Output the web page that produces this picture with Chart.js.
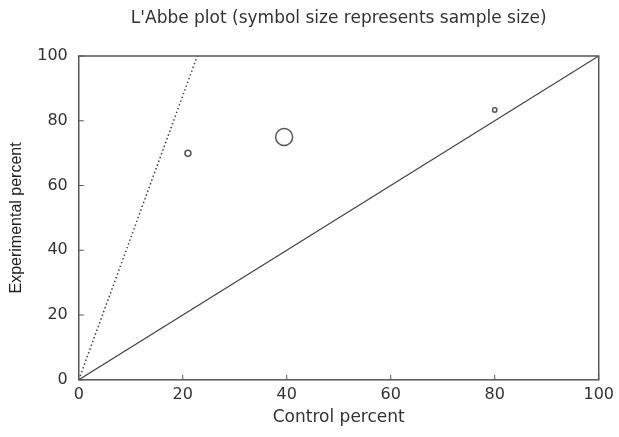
<!DOCTYPE html>
<html>
<head>
<meta charset="utf-8">
<script src="https://cdn.jsdelivr.net/npm/chart.js@4"></script>
<style>
  body { margin: 0; background: #fff; }
  #wrap { width: 619px; height: 437px; }
</style>
</head>
<body>
<div id="wrap"><canvas id="labbe"></canvas></div>
<script>
// estudos: controle %, experimental %, raio do simbolo (tamanho da amostra)
var controle = [21, 39.5, 80];
var experimental = [70, 75, 83.3];
var raios = [3, 8.5, 2.2];

// linha de igualdade e linha pontilhada
var linhaIgualX = [0, 100];
var linhaIgualY = [0, 100];
var linhaPontX = [0, 22.8];
var linhaPontY = [0, 100];

var ticksEixo = [0, 20, 40, 60, 80, 100];
var titulo = "L'Abbe plot (symbol size represents sample size)";

function pares(xs, ys) {
  return xs.map(function (x, i) { return { x: x, y: ys[i] }; });
}

var moldura = {
  id: "moldura",
  afterDraw: function (chart) {
    var ctx = chart.ctx;
    var a = chart.chartArea;
    var sx = chart.scales.x, sy = chart.scales.y;
    ctx.save();
    ctx.strokeStyle = "#555";
    ctx.lineWidth = 1.5;
    ctx.strokeRect(a.left, a.top, a.right - a.left, a.bottom - a.top);
    ctx.lineWidth = 1;
    ticksEixo.forEach(function (t) {
      var px = sx.getPixelForValue(t);
      ctx.beginPath(); ctx.moveTo(px, a.bottom); ctx.lineTo(px, a.bottom - 5); ctx.stroke();
      var py = sy.getPixelForValue(t);
      ctx.beginPath(); ctx.moveTo(a.left, py); ctx.lineTo(a.left + 5, py); ctx.stroke();
    });
    // titulo centrado sobre a area do grafico
    ctx.fillStyle = "#333";
    ctx.font = "17px 'DejaVu Sans'";
    ctx.textAlign = "center";
    ctx.textBaseline = "middle";
    ctx.fillText(titulo, (a.left + a.right) / 2, 19);
    ctx.restore();
  }
};

var dadosBolhas = controle.map(function (c, i) {
  return { x: c, y: experimental[i], r: raios[i] };
});

new Chart(document.getElementById("labbe"), {
  type: "bubble",
  data: {
    datasets: [
      {
        type: "scatter",
        data: pares(linhaIgualX, linhaIgualY),
        showLine: true,
        borderColor: "#444",
        borderWidth: 1.2,
        pointRadius: 0,
        order: 2
      },
      {
        type: "scatter",
        data: pares(linhaPontX, linhaPontY),
        showLine: true,
        borderColor: "#444",
        borderWidth: 1.5,
        borderDash: [1.5, 2.5],
        pointRadius: 0,
        order: 2
      },
      {
        data: dadosBolhas,
        backgroundColor: "rgba(0,0,0,0)",
        borderColor: "#555",
        borderWidth: 1.5,
        order: 1
      }
    ]
  },
  options: {
    responsive: true,
    maintainAspectRatio: false,
    animation: false,
    layout: { padding: { left: 7, right: 17, top: 56, bottom: 7 } },
    plugins: {
      legend: { display: false },
      tooltip: { enabled: false }
    },
    scales: {
      x: {
        type: "linear",
        min: 0,
        max: 100,
        afterBuildTicks: function (s) { s.ticks = ticksEixo.map(function (v) { return { value: v }; }); },
        grid: { display: false, drawTicks: false, tickLength: 0 },
        border: { display: false },
        ticks: { color: "#333", font: { family: "DejaVu Sans", size: 16 }, padding: 5, maxRotation: 0 },
        title: { display: true, text: "Control percent", color: "#333", font: { family: "DejaVu Sans", size: 17, lineHeight: 1 }, padding: { top: 0, bottom: 4 } }
      },
      y: {
        type: "linear",
        min: 0,
        max: 100,
        afterBuildTicks: function (s) { s.ticks = ticksEixo.map(function (v) { return { value: v }; }); },
        grid: { display: false, drawTicks: false, tickLength: 0 },
        border: { display: false },
        ticks: { color: "#333", font: { family: "DejaVu Sans", size: 16 }, padding: 11 },
        title: { display: true, text: "Experimental percent", color: "#222", font: { family: "Liberation Sans", size: 16 }, padding: { top: 0, bottom: 0 } }
      }
    }
  },
  plugins: [moldura]
});
</script>
</body>
</html>
